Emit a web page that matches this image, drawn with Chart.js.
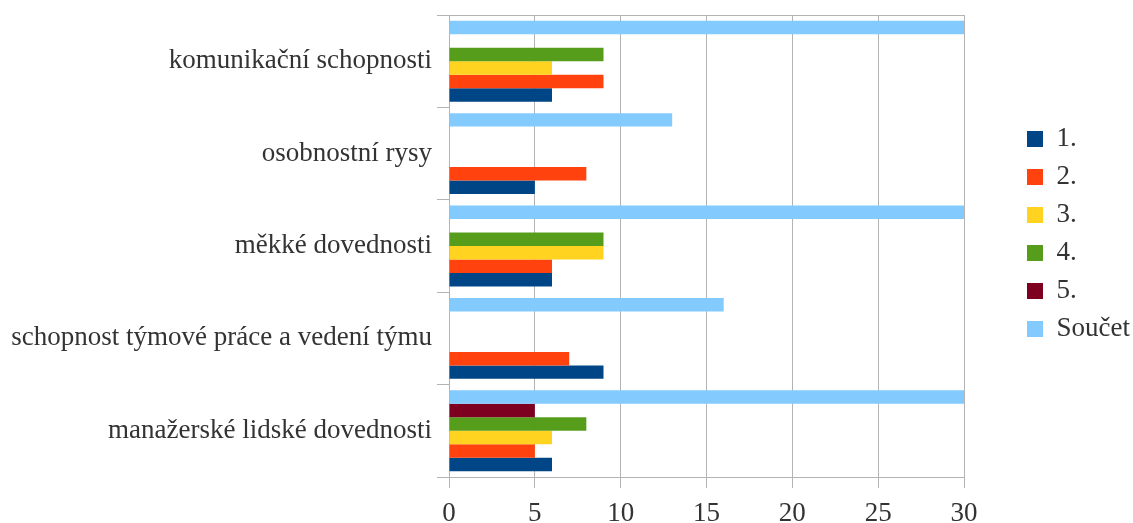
<!DOCTYPE html>
<html>
<head>
<meta charset="utf-8">
<script src="https://cdn.jsdelivr.net/npm/chart.js@4/dist/chart.umd.min.js"></script>
<style>
  html, body { margin: 0; padding: 0; background: #fff; }
  #wrap { width: 1133px; height: 523px; position: relative; }
</style>
</head>
<body>
<div id="wrap"><canvas id="c"></canvas></div>
<script>
// Categories, top to bottom as drawn
const categories = [
  'komunikační schopnosti',
  'osobnostní rysy',
  'měkké dovednosti',
  'schopnost týmové práce a vedení týmu',
  'manažerské lidské dovednosti'
];
const seriesNames = ['1.', '2.', '3.', '4.', '5.', 'Součet'];
const s1 = [6, 5, 6, 9, 6];
const s2 = [9, 8, 6, 7, 5];
const s3 = [6, null, 9, null, 6];
const s4 = [9, null, 9, null, 8];
const s5 = [null, null, null, null, 5];
const sSum = [30, 13, 30, 16, 30];
const xTicks = [0, 5, 10, 15, 20, 25, 30];

const colors = ['#004586', '#ff420e', '#ffd320', '#579d1c', '#7e0021', '#83caff'];
const values = [s1, s2, s3, s4, s5, sSum];

const GRID = '#b3b3b3';
const TXT = '#333333';
const FONT = 'Liberation Serif';

// Datasets reversed so that "1." is drawn at the bottom of each group
const datasets = [];
for (let i = values.length - 1; i >= 0; i--) {
  datasets.push({
    label: seriesNames[i],
    data: values[i],
    backgroundColor: colors[i],
    borderWidth: 0,
    categoryPercentage: 0.876,
    barPercentage: 1.0
  });
}

const legendPos = {
  id: 'legendPos',
  afterLayout(chart) {
    const l = chart.legend;
    if (!l) return;
    const w = l.width, h = l.height;
    l.left = 1016; l.right = l.left + w;
    l.top = 114.5; l.bottom = l.top + h;
  }
};

new Chart(document.getElementById('c'), {
  type: 'bar',
  data: { labels: categories, datasets },
  plugins: [legendPos],
  options: {
    indexAxis: 'y',
    responsive: true,
    maintainAspectRatio: false,
    animation: false,
    layout: { padding: { top: 15, right: 45, bottom: 0, left: 0 } },
    plugins: {
      tooltip: { enabled: false },
      legend: {
        position: 'right',
        align: 'start',
        reverse: true,
        labels: {
          boxWidth: 16,
          boxHeight: 16,
          padding: 11,
          color: TXT,
          font: { family: FONT, size: 27 }
        }
      }
    },
    scales: {
      x: {
        min: 0,
        max: 30,
        afterBuildTicks(scale) { scale.ticks = xTicks.map(v => ({ value: v })); },
        afterFit(scale) { scale.height = 46; },
        ticks: { color: TXT, font: { family: FONT, size: 27 }, padding: 10 },
        grid: { color: GRID, tickLength: 11, lineWidth: 1 },
        border: { color: GRID }
      },
      y: {
        afterFit(scale) { scale.width = 449; scale.paddingTop = 0; scale.paddingBottom = 0; },
        ticks: { color: TXT, font: { family: FONT, size: 27 }, padding: 5 },
        grid: {
          offset: true,
          color: (ctx) => (ctx.index === 0 || ctx.index === undefined) ? GRID : 'rgba(0,0,0,0)',
          tickColor: GRID,
          tickLength: 12
        },
        border: { color: GRID }
      }
    }
  }
});
</script>
</body>
</html>
